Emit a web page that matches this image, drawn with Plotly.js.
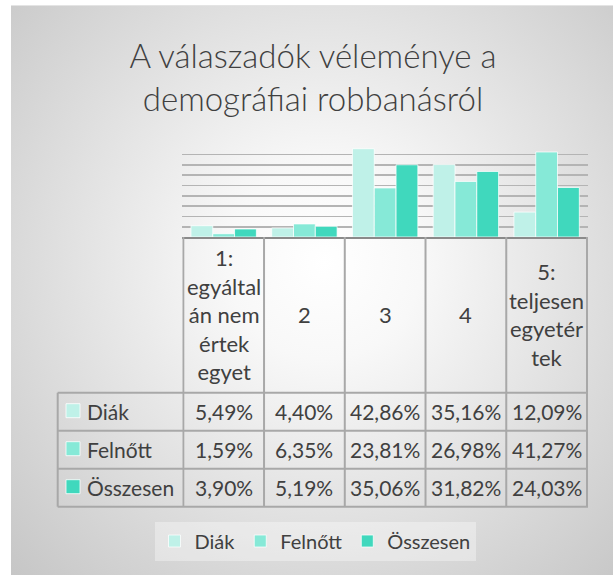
<!DOCTYPE html>
<html>
<head>
<meta charset="utf-8">
<script src="https://cdn.plot.ly/plotly-3.0.1.min.js"></script>
<style>
  html, body { margin: 0; padding: 0; background: #ffffff; }
  #bg { position: absolute; left: 11px; top: 5px; width: 602px; height: 570px;
        background: radial-gradient(circle farthest-corner at 52% 45%, #ffffff 0%, #f8f8f8 22%, #c6c6c6 100%);
        border-top: 1px solid #e4e4e4; box-sizing: border-box; }
  #chart { position: absolute; left: 0; top: 0; width: 613px; height: 575px; }
</style>
</head>
<body>
<div id="bg"></div>
<div id="chart"></div>
<script>
// ---- data ----
const categories = ['1: egyáltalán nem értek egyet', '2', '3', '4', '5: teljesen egyetértek'];
const tickLines = [['1:', 'egyáltal', 'án nem', 'értek', 'egyet'], ['2'], ['3'], ['4'], ['5:', 'teljesen', 'egyetér', 'tek']];
const seriesNames = ['Diák', 'Felnőtt', 'Összesen'];
const diak = [5.49, 4.40, 42.86, 35.16, 12.09];
const felnott = [1.59, 6.35, 23.81, 26.98, 41.27];
const osszesen = [3.90, 5.19, 35.06, 31.82, 24.03];
const seriesColors = ['#bff1e8', '#86e9d7', '#40d8bd'];
const titleText = 'A válaszadók véleménye a<br>demográfiai robbanásról';

// ---- layout helpers ----
const W = 613, H = 575;
const FONT = 'Lato, "Open Sans", sans-serif';
const TXT = '#404040';
const px = v => v / W;
const py = v => 1 - v / H;
const seriesValues = [diak, felnott, osszesen];

const traces = seriesValues.map((vals, i) => ({
  type: 'bar',
  name: seriesNames[i],
  x: categories,
  y: vals,
  marker: { color: seriesColors[i], line: { color: 'rgba(255,255,255,0.75)', width: 1 } },
  hoverinfo: 'x+y+name'
}));

// ---- data table (drawn on the category axis) ----
const tblLeft = 57.7, tblRight = 588, headTop = 237, headBottom = 392.7, rowH = 38;
const border = '#a8a8a8';
const fmt = v => v.toFixed(2).replace('.', ',') + '%';

const shapes = [];
const annotations = [];
const hline = (y) => shapes.push({ type: 'line', xref: 'paper', yref: 'paper',
  x0: px(tblLeft), x1: px(tblRight), y0: py(y), y1: py(y), line: { color: border, width: 2 } });
for (let r = 0; r <= seriesNames.length; r++) hline(headBottom + r * rowH);
const tblBottom = headBottom + seriesNames.length * rowH;
// left edge of the row-label column
shapes.push({ type: 'line', xref: 'paper', yref: 'paper', x0: px(tblLeft), x1: px(tblLeft),
  y0: py(headBottom), y1: py(tblBottom), line: { color: border, width: 2 } });
// column boundaries on the category scale
for (let j = 0; j <= categories.length; j++) {
  shapes.push({ type: 'line', xref: 'x', yref: 'paper', x0: j - 0.5, x1: j - 0.5,
    y0: py(headTop), y1: py(tblBottom), line: { color: border, width: 2 } });
}
// header labels (x = category index on the category axis)
categories.forEach((c, j) => {
  annotations.push({ xref: 'x', yref: 'paper', x: j, y: py((headTop + headBottom) / 2),
    text: tickLines[j].join('<br>'), showarrow: false, align: 'center',
    xanchor: 'center', yanchor: 'middle', font: { family: FONT, size: 22, color: TXT } });
});
// rows
seriesNames.forEach((n, i) => {
  const yc = headBottom + (i + 0.5) * rowH;
  shapes.push({ type: 'rect', xref: 'paper', yref: 'paper', x0: px(66), x1: px(80),
    y0: py(yc - 8), y1: py(yc + 6), fillcolor: seriesColors[i],
    line: { color: 'rgba(255,255,255,0.8)', width: 1 } });
  annotations.push({ xref: 'paper', yref: 'paper', x: px(84.5), y: py(yc), text: n,
    showarrow: false, xanchor: 'left', yanchor: 'middle', font: { family: FONT, size: 21, color: TXT } });
  categories.forEach((c, j) => {
    annotations.push({ xref: 'x', yref: 'paper', x: j, y: py(yc), text: fmt(seriesValues[i][j]),
      showarrow: false, xanchor: 'center', yanchor: 'middle', font: { family: FONT, size: 21, color: TXT } });
  });
});

const layout = {
  width: W, height: H,
  margin: { l: 0, r: 0, t: 0, b: 0 },
  paper_bgcolor: 'rgba(0,0,0,0)',
  plot_bgcolor: 'rgba(0,0,0,0)',
  font: { family: FONT, color: TXT },
  title: {
    text: titleText,
    font: { family: FONT, size: 33, color: TXT, weight: 300 },
    x: 313 / W, xanchor: 'center', xref: 'paper',
    y: py(68), yanchor: 'middle', yref: 'paper'
  },
  barmode: 'group',
  bargap: 0.19,
  bargroupgap: 0,
  xaxis: {
    type: 'category',
    domain: [px(182.3), px(588)],
    showticklabels: false,
    showline: true, linecolor: '#8a8a8a', linewidth: 2,
    ticks: 'outside', tickson: 'boundaries', ticklen: 3, tickcolor: '#8a8a8a', tickwidth: 1,
    showgrid: false, fixedrange: true
  },
  yaxis: {
    domain: [py(237), py(144.3)],
    range: [0, 45], dtick: 5,
    showticklabels: false, ticks: '',
    showgrid: true, gridcolor: '#b4b4b4', gridwidth: 1.6,
    zeroline: false, showline: false, fixedrange: true
  },
  shapes: shapes,
  annotations: annotations,
  showlegend: true,
  legend: {
    orientation: 'h',
    x: 315 / W, xanchor: 'center',
    y: py(541), yanchor: 'middle',
    bgcolor: 'rgba(255,255,255,0.35)',
    font: { family: FONT, size: 20, color: TXT },
    itemwidth: 30,
    traceorder: 'normal'
  }
};

Plotly.newPlot('chart', traces, layout, { staticPlot: true, displayModeBar: false });
</script>
</body>
</html>
